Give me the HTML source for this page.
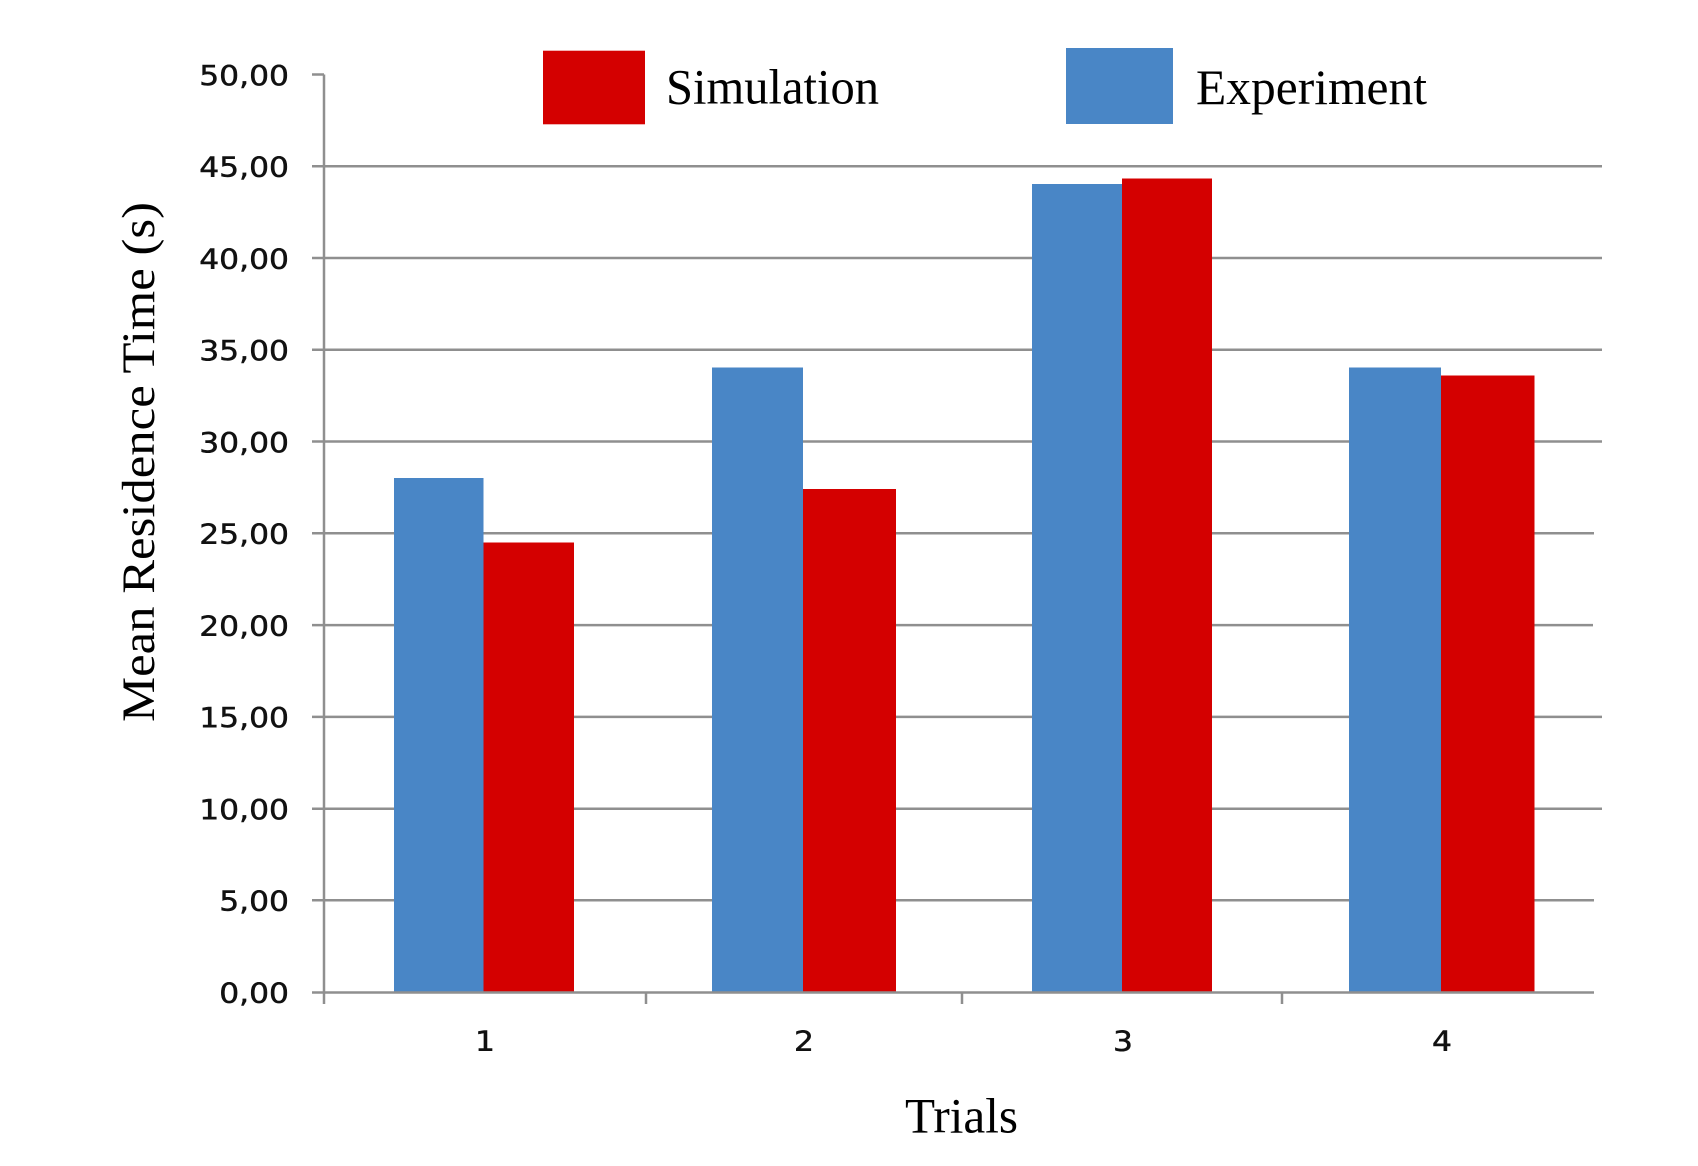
<!DOCTYPE html>
<html>
<head>
<meta charset="utf-8">
<style>
html,body{margin:0;padding:0;background:#fff;}
svg{display:block;}
</style>
</head>
<body>
<svg width="1698" height="1166" viewBox="0 0 1698 1166" xmlns="http://www.w3.org/2000/svg">
<rect x="0" y="0" width="1698" height="1166" fill="#ffffff"/>
<!-- gridlines -->
<g stroke="#8f8f8f" stroke-width="2.5">
<line x1="312" y1="166.3" x2="1602" y2="166.3"/>
<line x1="312" y1="258" x2="1602" y2="258"/>
<line x1="312" y1="349.7" x2="1602" y2="349.7"/>
<line x1="312" y1="441.5" x2="1602" y2="441.5"/>
<line x1="312" y1="533.3" x2="1594" y2="533.3"/>
<line x1="312" y1="625.1" x2="1593" y2="625.1"/>
<line x1="312" y1="716.9" x2="1602" y2="716.9"/>
<line x1="312" y1="808.7" x2="1602" y2="808.7"/>
<line x1="312" y1="900.3" x2="1594" y2="900.3"/>
<line x1="312" y1="74.5" x2="324" y2="74.5"/>
</g>
<!-- bars -->
<g>
<rect x="394" y="478" width="89.5" height="514" fill="#4986c6"/>
<rect x="483.5" y="542.5" width="90.5" height="449.5" fill="#d40000"/>
<rect x="712" y="367.5" width="91" height="624.5" fill="#4986c6"/>
<rect x="803" y="489" width="93" height="503" fill="#d40000"/>
<rect x="1032" y="184" width="90" height="808" fill="#4986c6"/>
<rect x="1122" y="178.5" width="90" height="813.5" fill="#d40000"/>
<rect x="1349" y="367.5" width="92" height="624.5" fill="#4986c6"/>
<rect x="1441" y="375.5" width="93.5" height="616.5" fill="#d40000"/>
</g>
<!-- axes -->
<g stroke="#8f8f8f" stroke-width="2.5">
<line x1="324" y1="74.5" x2="324" y2="1004"/>
<line x1="312" y1="992.5" x2="1594" y2="992.5"/>
<line x1="646" y1="992.5" x2="646" y2="1004"/>
<line x1="962" y1="992.5" x2="962" y2="1004"/>
<line x1="1282" y1="992.5" x2="1282" y2="1004"/>
</g>
<!-- y tick labels -->
<g font-family="DejaVu Sans, Liberation Sans, sans-serif" font-size="28" fill="#111" stroke="#111" stroke-width="0.5" text-anchor="end">
<text transform="translate(289,85) scale(1.12,1)">50,00</text>
<text transform="translate(289,176.5) scale(1.12,1)">45,00</text>
<text transform="translate(289,268.3) scale(1.12,1)">40,00</text>
<text transform="translate(289,360) scale(1.12,1)">35,00</text>
<text transform="translate(289,451.8) scale(1.12,1)">30,00</text>
<text transform="translate(289,543.6) scale(1.12,1)">25,00</text>
<text transform="translate(289,635.4) scale(1.12,1)">20,00</text>
<text transform="translate(289,727.2) scale(1.12,1)">15,00</text>
<text transform="translate(289,819) scale(1.12,1)">10,00</text>
<text transform="translate(289,910.6) scale(1.12,1)">5,00</text>
<text transform="translate(289,1002.6) scale(1.12,1)">0,00</text>
</g>
<!-- x tick labels -->
<g font-family="DejaVu Sans, Liberation Sans, sans-serif" font-size="28" fill="#111" stroke="#111" stroke-width="0.5" text-anchor="middle">
<text transform="translate(485,1050.5) scale(1.12,1)">1</text>
<text transform="translate(804,1050.5) scale(1.12,1)">2</text>
<text transform="translate(1123,1050.5) scale(1.12,1)">3</text>
<text transform="translate(1442,1050.5) scale(1.12,1)">4</text>
</g>
<!-- axis titles -->
<text x="905" y="1132.7" font-family="Liberation Serif, serif" font-size="50" fill="#000" textLength="113" lengthAdjust="spacingAndGlyphs">Trials</text>
<text transform="translate(154,462) rotate(-90)" x="0" y="0" text-anchor="middle" font-family="Liberation Serif, serif" font-size="47" fill="#000" textLength="520" lengthAdjust="spacingAndGlyphs">Mean Residence Time (s)</text>
<!-- legend -->
<rect x="543" y="50.7" width="102" height="73.6" fill="#d40000"/>
<text x="666" y="103.5" font-family="Liberation Serif, serif" font-size="50" fill="#000" textLength="213" lengthAdjust="spacingAndGlyphs">Simulation</text>
<rect x="1066" y="48" width="107" height="76" fill="#4986c6"/>
<text x="1196" y="104" font-family="Liberation Serif, serif" font-size="50" fill="#000" textLength="231" lengthAdjust="spacingAndGlyphs">Experiment</text>
</svg>
</body>
</html>
